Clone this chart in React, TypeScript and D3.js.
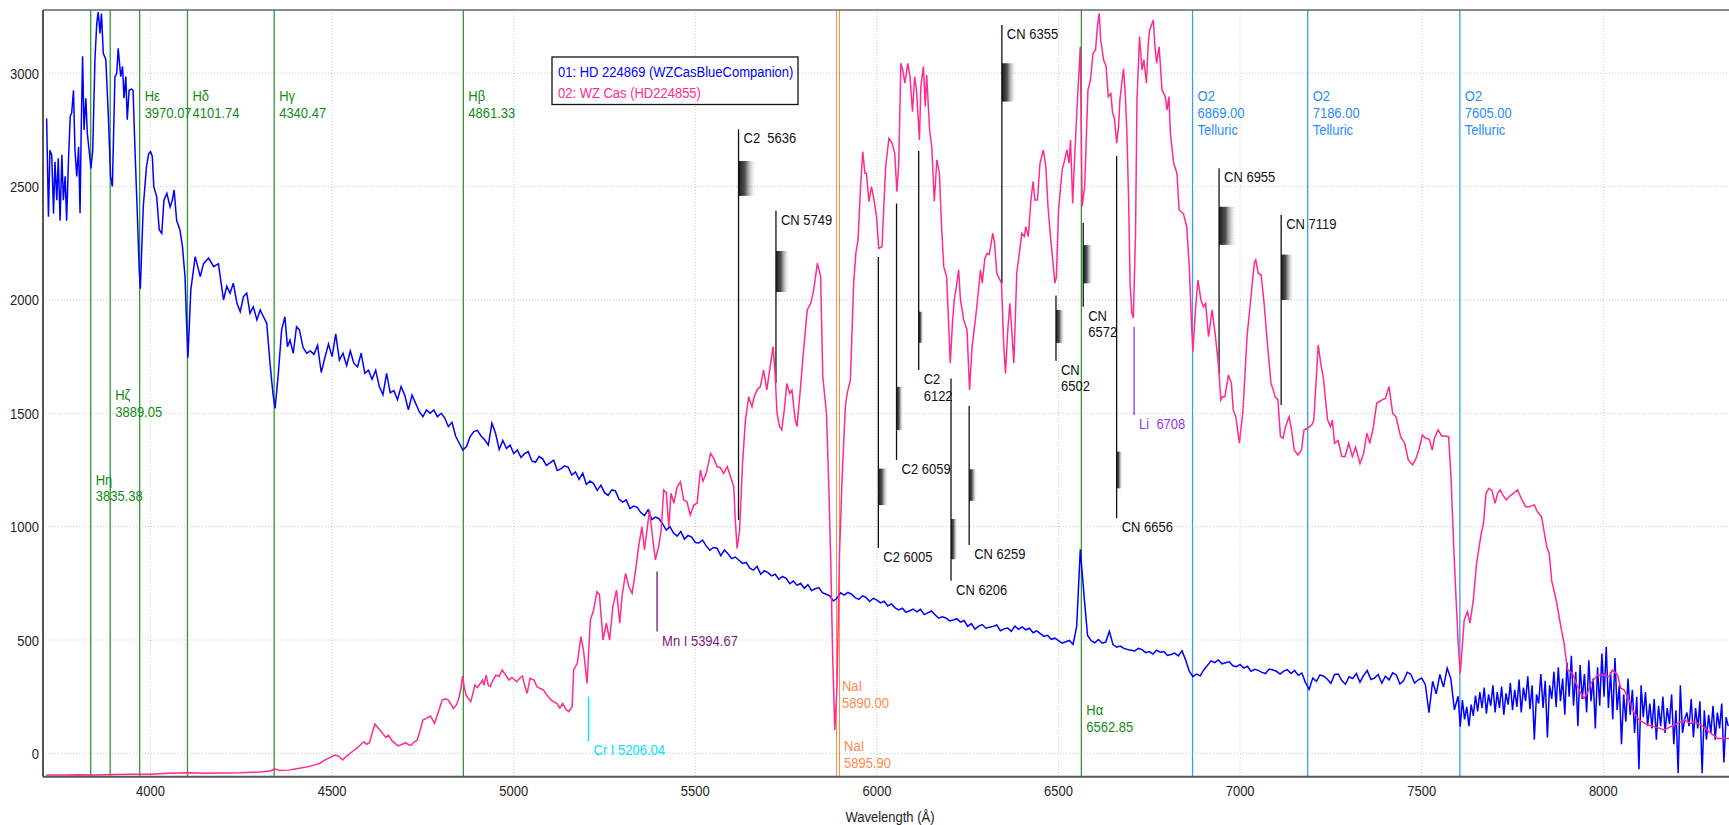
import * as d3 from 'd3'

const WIDTH = 1729
const HEIGHT = 825
const MARGIN = { top: 10, right: 0, bottom: 48.3, left: 43 }
const FONT = '"Liberation Sans", Arial, sans-serif'
const FONT_SIZE = 13
const STRETCH = 1.18

const X_DOMAIN = [3704, 8346]
const Y_DOMAIN = [-103, 3279]
const X_TICKS = [4000, 4500, 5000, 5500, 6000, 6500, 7000, 7500, 8000]
const Y_TICKS = [0, 500, 1000, 1500, 2000, 2500, 3000]

const SERIES_NAMES = ['01: HD 224869 (WZCasBlueCompanion)', '02: WZ Cas (HD224855)']

// 01: blue companion, hand
const blueHead: [number, number][] = [
  [3714, 2800], [3719, 2367], [3723, 2660], [3728, 2640], [3733, 2380], [3737, 2610], [3742, 2440], [3746, 2625],
  [3751, 2350], [3756, 2640], [3760, 2440], [3765, 2545], [3769, 2350], [3774, 2610], [3779, 2810], [3783, 2825],
  [3788, 2925], [3792, 2660], [3797, 2545], [3802, 2675], [3806, 2382], [3809, 2735], [3813, 3075], [3817, 2750],
  [3822, 2890], [3826, 2735], [3832, 2645], [3836, 2580], [3841, 2660], [3847, 3060], [3852, 3220], [3856, 3270],
  [3861, 3176], [3865, 3263], [3870, 3088], [3877, 3060], [3884, 2808], [3890, 2545], [3895, 2500], [3902, 2985],
  [3907, 3000], [3911, 3110], [3918, 2985], [3923, 3030], [3927, 2890], [3932, 2985], [3936, 2795], [3941, 2925],
  [3948, 2930], [3952, 2925], [3957, 2675], [3963, 2410], [3969, 2130], [3972, 2050], [3980, 2410], [3989, 2588],
  [3995, 2645], [4000, 2655], [4005, 2633], [4009, 2500], [4017, 2456], [4024, 2310], [4031, 2294], [4037, 2440],
  [4045, 2470], [4054, 2410], [4060, 2440], [4065, 2485], [4072, 2350], [4081, 2310], [4088, 2235], [4095, 2103],
  [4099, 1911], [4103, 1745], [4111, 2044], [4123, 2191], [4137, 2103], [4146, 2160], [4160, 2185], [4174, 2147],
  [4187, 2160], [4201, 2000], [4210, 2060], [4219, 2030], [4228, 2074], [4238, 1985], [4247, 1948], [4256, 2015],
  [4265, 2030], [4274, 1941], [4283, 1970], [4293, 1912], [4302, 1956], [4311, 1926], [4320, 1897], [4329, 1721],
  [4337, 1588], [4343, 1522], [4352, 1676], [4361, 1868], [4370, 1926], [4377, 1794], [4384, 1823], [4393, 1765],
  [4402, 1882]
]

// sampled every 10 A from 4410 to 7600
const BLUE_MID_START = 4410
const BLUE_MID_STEP = 10
const blueMid = [
  1868, 1790, 1765, 1775, 1760, 1800, 1680, 1745, 1805, 1750,
  1850, 1735, 1765, 1710, 1775, 1720, 1705, 1765, 1676, 1690,
  1650, 1690, 1618, 1582, 1676, 1590, 1600, 1560, 1618, 1580,
  1515, 1580, 1544, 1507, 1485, 1515, 1500, 1515, 1485, 1500,
  1480, 1441, 1460, 1400, 1368, 1338, 1353, 1397, 1419, 1425,
  1400, 1383, 1360, 1456, 1412, 1340, 1380, 1345, 1360, 1323,
  1338, 1305, 1322, 1331, 1290, 1284, 1310, 1298, 1270, 1281,
  1293, 1248, 1255, 1268, 1262, 1228, 1241, 1208, 1236, 1186,
  1201, 1190, 1160, 1183, 1150, 1138, 1162, 1158, 1121, 1108,
  1118, 1080, 1091, 1085, 1062, 1049, 1074, 1031, 1042, 1035,
  1012, 985, 1000, 972, 958, 979, 945, 961, 954, 930,
  928, 941, 915, 896, 908, 905, 872, 897, 880, 859,
  866, 852, 838, 842, 817, 808, 825, 790, 806, 797,
  783, 790, 768, 781, 772, 748, 760, 741, 750, 728,
  744, 718, 726, 731, 709, 702, 695, 672, 684, 708,
  698, 710, 702, 687, 679, 695, 688, 670, 684, 676,
  664, 671, 650, 659, 642, 633, 640, 622, 629, 636,
  624, 635, 612, 620, 628, 611, 596, 602, 597, 584,
  588, 594, 579, 586, 560, 572, 548, 561, 568, 552,
  556, 560, 566, 541, 549, 553, 538, 561, 547, 558,
  545, 552, 532, 540, 528, 516, 521, 503, 508, 497,
  486, 492, 498, 481, 560, 900, 700, 520, 497, 488,
  502, 486, 491, 538, 480, 468, 473, 463, 458, 455,
  452, 463, 457, 444, 449, 438, 455, 446, 449, 432,
  436, 442, 430, 452, 412, 362, 338, 350, 342, 368,
  388, 408, 400, 412, 395, 400, 404, 386, 382, 392,
  376, 384, 362, 371, 366, 357, 352, 372, 368, 362,
  350, 363, 369, 352, 366, 344, 354, 312, 282, 332,
  318, 346, 340, 327, 309, 348, 350, 321, 305, 338,
  330, 352, 314, 344, 365, 326, 332, 348, 309, 340,
  324, 355, 346, 306, 320, 358, 349, 310, 323, 332,
  303, 180, 318, 262, 348, 292, 376, 330, 192, 252
]

// the noisy red end, every 6 A from 7606
const BLUE_TAIL_START = 7606
const BLUE_TAIL_STEP = 6
const blueTail = [
  118, 235, 150, 205, 120, 215, 165, 255, 185, 270,
  200, 290, 175, 260, 210, 300, 180, 270, 200, 295,
  170, 265, 215, 310, 190, 280, 205, 325, 180, 290,
  230, 340, 195, 300, 60, 260, 220, 350, 200, 320,
  70, 300, 240, 360, 205, 380, 230, 330, 170, 400,
  250, 430, 210, 360, 120, 390, 240, 350, 180, 410,
  230, 330, 110, 380, 210, 440, 250, 470, 200, 360,
  150, 420, 190, 300, 40, 260, 140, 330, 170, 280,
  90, 250, -70, 300, 160, 270, 120, 220, 110, 240,
  60, 210, 120, 250, 90, 200, 130, 260, 40, 190,
  -88, 300, 90, 150, 180, 120, 240, 70, 200, 110,
  230, -88, 190, 60, 170, 90, 210, 60, 180, 110,
  220, -40, 160, 120
]

// 02: WZ Cas
const pinkPoints: [number, number][] = [
  [3713, -95], [3760, -96], [3800, -94], [3850, -95], [3900, -93], [3950, -92], [4000, -92], [4050, -88],
  [4100, -86], [4150, -88], [4200, -87], [4250, -86], [4300, -82], [4330, -78], [4342, -68], [4355, -76],
  [4380, -74], [4410, -66], [4430, -60], [4450, -52], [4465, -45], [4480, -30], [4495, -18], [4508, -8],
  [4518, -12], [4529, -29], [4540, -12], [4555, 7], [4570, 25], [4587, 51], [4595, 40], [4603, 47],
  [4612, 100], [4618, 129], [4628, 110], [4639, 88], [4648, 70], [4655, 80], [4665, 55], [4682, 33],
  [4693, 40], [4703, 47], [4710, 38], [4718, 36], [4725, 50], [4734, 58], [4742, 100], [4750, 147],
  [4760, 155], [4771, 165], [4782, 132], [4792, 180], [4803, 235], [4810, 240], [4818, 238], [4826, 220],
  [4834, 198], [4843, 215], [4850, 250], [4855, 290], [4859, 341], [4864, 290], [4869, 257], [4876, 240],
  [4882, 228], [4893, 301], [4900, 290], [4914, 323], [4918, 300], [4924, 345], [4930, 300], [4935, 294],
  [4942, 320], [4951, 345], [4960, 340], [4968, 368], [4980, 340], [4987, 323], [4995, 335], [5008, 316],
  [5016, 330], [5024, 341], [5030, 300], [5037, 265], [5045, 331], [5056, 323], [5064, 294], [5072, 287],
  [5082, 279], [5090, 260], [5103, 235], [5110, 228], [5119, 220], [5127, 200], [5135, 220], [5143, 195],
  [5151, 184], [5161, 206], [5165, 368], [5175, 397], [5185, 515], [5192, 456], [5202, 309], [5211, 588],
  [5220, 632], [5229, 713], [5236, 700], [5246, 500], [5255, 574], [5264, 500], [5273, 647], [5283, 720],
  [5292, 574], [5298, 691], [5308, 794], [5317, 735], [5326, 706], [5335, 802], [5344, 912], [5353, 1000],
  [5360, 897], [5367, 985], [5374, 1073], [5381, 971], [5390, 853], [5399, 912], [5406, 985], [5413, 1162],
  [5420, 1150], [5427, 1000], [5433, 1147], [5441, 1103], [5450, 1176], [5459, 1198], [5468, 1118], [5477, 1110],
  [5486, 1051], [5496, 1096], [5505, 1103], [5514, 1250], [5521, 1200], [5530, 1235], [5542, 1323], [5551, 1300],
  [5560, 1265], [5569, 1260], [5578, 1235], [5588, 1265], [5597, 1220], [5606, 1176], [5610, 1029], [5615, 904],
  [5622, 985], [5630, 1279], [5638, 1471], [5647, 1573], [5656, 1529], [5662, 1573], [5670, 1603], [5679, 1618],
  [5688, 1691], [5697, 1603], [5706, 1706], [5714, 1794], [5719, 1691], [5725, 1500], [5732, 1441], [5738, 1427],
  [5745, 1515], [5752, 1632], [5760, 1588], [5766, 1603], [5775, 1471], [5780, 1441], [5789, 1603], [5796, 1740],
  [5808, 1956], [5818, 1985], [5826, 2044], [5836, 2162], [5845, 2103], [5851, 1662], [5861, 1500], [5867, 1206],
  [5873, 838], [5878, 441], [5884, 103], [5890, 294], [5897, 882], [5904, 1206], [5913, 1529], [5918, 1588],
  [5927, 1647], [5936, 2074], [5942, 2206], [5948, 2265], [5955, 2500], [5961, 2654], [5967, 2559], [5971, 2559],
  [5978, 2434], [5985, 2500], [5992, 2441], [5999, 2367], [6005, 2228], [6014, 2235], [6024, 2588], [6033, 2713],
  [6042, 2691], [6049, 2647], [6055, 2478], [6060, 2600], [6066, 3044], [6071, 3015], [6077, 2956], [6085, 3044],
  [6091, 2985], [6098, 2830], [6104, 2985], [6109, 2926], [6117, 2706], [6121, 2941], [6128, 3030], [6133, 2853],
  [6137, 2992], [6145, 2750], [6151, 2676], [6158, 2434], [6165, 2618], [6172, 2559], [6178, 2324], [6184, 2147],
  [6192, 2100], [6202, 1721], [6208, 1900], [6213, 2000], [6219, 2060], [6225, 2133], [6230, 2000], [6239, 1912],
  [6248, 1868], [6255, 1603], [6262, 1794], [6271, 1912], [6276, 1985], [6285, 2133], [6290, 2074], [6297, 2182],
  [6303, 2206], [6309, 2200], [6313, 2235], [6319, 2294], [6324, 2250], [6330, 2118], [6343, 2074], [6349, 1800],
  [6354, 1676], [6360, 1860], [6366, 1985], [6372, 1850], [6377, 1721], [6385, 2118], [6399, 2294], [6406, 2280],
  [6410, 2323], [6417, 2280], [6424, 2441], [6430, 2522], [6435, 2441], [6442, 2441], [6449, 2603], [6458, 2662],
  [6465, 2590], [6471, 2412], [6477, 2294], [6490, 2074], [6494, 2100], [6500, 2397], [6510, 2574], [6517, 2618],
  [6523, 2662], [6529, 2603], [6533, 2706], [6539, 2426], [6543, 2580], [6552, 2882], [6560, 3117], [6565, 2412],
  [6572, 2500], [6581, 2926], [6588, 2970], [6595, 3088], [6602, 3103], [6607, 3206], [6612, 3264], [6616, 3150],
  [6624, 3059], [6631, 3030], [6637, 2897], [6644, 2910], [6649, 2823], [6654, 2800], [6660, 2691], [6665, 2760],
  [6669, 2882], [6674, 2956], [6679, 3020], [6684, 2900], [6688, 2750], [6693, 2441], [6697, 2074], [6702, 1941],
  [6706, 1920], [6712, 2294], [6716, 2882], [6723, 3162], [6730, 3015], [6735, 3060], [6742, 2956], [6747, 3130],
  [6751, 3191], [6761, 3235], [6765, 3130], [6770, 3044], [6777, 3117], [6785, 2926], [6794, 2897], [6799, 2838],
  [6804, 2897], [6808, 2735], [6817, 2603], [6826, 2559], [6832, 2397], [6844, 2380], [6853, 2323], [6860, 2147],
  [6866, 1900], [6870, 1772], [6877, 1956], [6884, 2088], [6892, 2000], [6899, 1970], [6905, 1985], [6913, 1838],
  [6923, 1956], [6932, 1838], [6940, 1720], [6947, 1559], [6952, 1573], [6958, 1573], [6968, 1669], [6976, 1632],
  [6981, 1515], [6988, 1485], [6998, 1368], [7008, 1515], [7019, 1838], [7029, 2000], [7039, 2162], [7043, 2176],
  [7050, 2118], [7058, 2110], [7066, 1985], [7075, 1809], [7085, 1632], [7092, 1600], [7096, 1573], [7104, 1560],
  [7111, 1397], [7118, 1390], [7125, 1441], [7135, 1485], [7143, 1410], [7149, 1338], [7159, 1316], [7169, 1338],
  [7176, 1427], [7186, 1434], [7198, 1450], [7203, 1470], [7215, 1802], [7222, 1720], [7230, 1647], [7236, 1544],
  [7241, 1470], [7249, 1441], [7254, 1470], [7260, 1368], [7270, 1380], [7280, 1309], [7289, 1309], [7299, 1368],
  [7309, 1309], [7318, 1350], [7330, 1279], [7340, 1323], [7349, 1412], [7357, 1368], [7367, 1441], [7376, 1544],
  [7391, 1559], [7400, 1565], [7410, 1618], [7420, 1500], [7429, 1485], [7442, 1397], [7453, 1368], [7463, 1294],
  [7475, 1272], [7484, 1300], [7492, 1338], [7502, 1404], [7511, 1390], [7521, 1385], [7529, 1338], [7535, 1390],
  [7545, 1427], [7555, 1400], [7564, 1400], [7574, 1397], [7581, 1206], [7588, 912], [7594, 700], [7600, 500],
  [7606, 353], [7617, 588], [7626, 625], [7633, 574], [7642, 676], [7651, 838], [7664, 971], [7670, 1015],
  [7677, 1147], [7685, 1169], [7693, 1160], [7702, 1103], [7709, 1147], [7716, 1162], [7723, 1140], [7733, 1118],
  [7743, 1135], [7752, 1147], [7764, 1162], [7774, 1125], [7786, 1088], [7796, 1088], [7810, 1096], [7818, 1066],
  [7830, 1044], [7844, 912], [7851, 882], [7858, 760], [7865, 713], [7872, 661], [7883, 559], [7892, 485],
  [7901, 368], [7915, 353], [7929, 294], [7938, 265], [7947, 243], [7956, 265], [7966, 309], [7984, 346],
  [8002, 345], [8016, 338], [8025, 368], [8039, 346], [8048, 287], [8058, 279], [8071, 235], [8085, 177],
  [8099, 147], [8122, 125], [8140, 118], [8168, 103], [8186, 118], [8204, 132], [8223, 147], [8241, 132],
  [8250, 140], [8269, 125], [8296, 88], [8315, 66], [8346, 66]
]

// full height identification lines
const identLines = [
  { wl: 3835.38, kind: 'balmer', text: ['Hη', '3835.38'], labelFlux: 1209 },
  { wl: 3889.05, kind: 'balmer', text: ['Hζ', '3889.05'], labelFlux: 1581 },
  { wl: 3970.07, kind: 'balmer', text: ['Hε', '3970.07'], labelFlux: 2900 },
  { wl: 4101.74, kind: 'balmer', text: ['Hδ', '4101.74'], labelFlux: 2900 },
  { wl: 4340.47, kind: 'balmer', text: ['Hγ', '4340.47'], labelFlux: 2900 },
  { wl: 4861.33, kind: 'balmer', text: ['Hβ', '4861.33'], labelFlux: 2900 },
  { wl: 5890.0, kind: 'sodium', text: ['NaI', '5890.00'], labelFlux: 298 },
  { wl: 5895.9, kind: 'sodium', text: ['NaI', '5895.90'], labelFlux: 34 },
  { wl: 6562.85, kind: 'balmer', text: ['Hα', '6562.85'], labelFlux: 194 },
  { wl: 6869.0, kind: 'telluric', text: ['O2', '6869.00', 'Telluric'], labelFlux: 2900 },
  { wl: 7186.0, kind: 'telluric', text: ['O2', '7186.00', 'Telluric'], labelFlux: 2900 },
  { wl: 7605.0, kind: 'telluric', text: ['O2', '7605.00', 'Telluric'], labelFlux: 2900 }
]

// short atomic markers: from/to in flux units
const atomLines = [
  { wl: 5206.04, kind: 'chromium', from: 250, to: 52, text: 'Cr I 5206.04', labelFlux: 15 },
  { wl: 5394.67, kind: 'manganese', from: 802, to: 537, text: 'Mn I 5394.67', labelFlux: 500 },
  { wl: 6708, kind: 'lithium', from: 1882, to: 1493, text: 'Li  6708', labelFlux: 1456 }
]

// molecular band heads: line extent, shaded band (flux hi/lo, width in A), label end
const bandMarks = [
  { wl: 5619, top: 2753, bottom: 1029, shadeHi: 2613, shadeLo: 2459, shadeWidth: 50, text: ['C2  5636'], end: 'top' },
  { wl: 5722, top: 2394, bottom: 1634, shadeHi: 2216, shadeLo: 2035, shadeWidth: 39, text: ['CN 5749'], end: 'top' },
  { wl: 6004, top: 2190, bottom: 906, shadeHi: 1256, shadeLo: 1095, shadeWidth: 28, text: ['C2 6005'], end: 'bottom' },
  { wl: 6054, top: 2425, bottom: 1294, shadeHi: 1617, shadeLo: 1426, shadeWidth: 19, text: ['C2 6059'], end: 'bottom' },
  { wl: 6115, top: 2657, bottom: 1691, shadeHi: 1948, shadeLo: 1811, shadeWidth: 14, text: ['C2', '6122'], end: 'bottom' },
  { wl: 6204, top: 1654, bottom: 761, shadeHi: 1034, shadeLo: 856, shadeWidth: 19, text: ['CN 6206'], end: 'bottom' },
  { wl: 6254, top: 1532, bottom: 919, shadeHi: 1253, shadeLo: 1114, shadeWidth: 22, text: ['CN 6259'], end: 'bottom' },
  { wl: 6344, top: 3213, bottom: 2073, shadeHi: 3044, shadeLo: 2875, shadeWidth: 41, text: ['CN 6355'], end: 'top' },
  { wl: 6493, top: 2020, bottom: 1732, shadeHi: 1956, shadeLo: 1810, shadeWidth: 25, text: ['CN', '6502'], end: 'bottom' },
  { wl: 6568, top: 2339, bottom: 1970, shadeHi: 2242, shadeLo: 2073, shadeWidth: 28, text: ['CN', '6572'], end: 'bottom' },
  { wl: 6660, top: 2635, bottom: 1037, shadeHi: 1331, shadeLo: 1169, shadeWidth: 17, text: ['CN 6656'], end: 'bottom' },
  { wl: 6942, top: 2581, bottom: 1676, shadeHi: 2411, shadeLo: 2243, shadeWidth: 50, text: ['CN 6955'], end: 'top' },
  { wl: 7113, top: 2375, bottom: 1537, shadeHi: 2200, shadeLo: 2000, shadeWidth: 36, text: ['CN 7119'], end: 'top' }
]

const KIND_COLORS: Record<string, { line: string; text: string }> = {
  balmer: { line: '#2f9a2f', text: '#138a13' },
  sodium: { line: '#ff8a4c', text: '#ff8a4c' },
  telluric: { line: '#3a98ff', text: '#2a8cff' },
  chromium: { line: '#00e6ff', text: '#00e0ff' },
  manganese: { line: '#8a1a8a', text: '#7f1a7f' },
  lithium: { line: '#9b3bff', text: '#9933ff' }
}

const BLUE = '#0000ff'
const PINK = '#ff2b8e'
const LINE_GAP = 16.7

// text slightly stretched vertically, like the original Windows font
function Label({ x, y, fill, anchor = 'start', children }: {
  x: number; y: number; fill: string; anchor?: string; children: any
}) {
  return (
    <text
      transform={`translate(${x},${y}) scale(1,${STRETCH})`}
      dy="0.36em"
      textAnchor={anchor}
      fill={fill}
      fontFamily={FONT}
      fontSize={FONT_SIZE}
      style={{ whiteSpace: 'pre' }}
    >
      {children}
    </text>
  )
}

export default function App() {
  const innerRight = WIDTH - MARGIN.right
  const innerBottom = HEIGHT - MARGIN.bottom

  const x = d3.scaleLinear().domain(X_DOMAIN).range([MARGIN.left, innerRight])
  const y = d3.scaleLinear().domain(Y_DOMAIN).range([innerBottom, MARGIN.top])

  const blue: [number, number][] = [
    ...blueHead,
    ...blueMid.map((v, i) => [BLUE_MID_START + i * BLUE_MID_STEP, v] as [number, number]),
    ...blueTail.map((v, i) => [BLUE_TAIL_START + i * BLUE_TAIL_STEP, v] as [number, number])
  ]

  const line = d3.line<[number, number]>()
    .x(d => x(d[0]))
    .y(d => y(d[1]))

  return (
    <svg width={WIDTH} height={HEIGHT} style={{ position: 'absolute', left: 0, top: 0, background: '#fff' }}>
      <defs>
        <clipPath id="plot-clip">
          <rect x={MARGIN.left} y={MARGIN.top} width={innerRight - MARGIN.left} height={innerBottom - MARGIN.top} />
        </clipPath>
        <linearGradient id="band-shade" x1="0" x2="1" y1="0" y2="0">
          <stop offset="0" stopColor="#1a1a1a" stopOpacity={1} />
          <stop offset="0.35" stopColor="#333" stopOpacity={0.85} />
          <stop offset="1" stopColor="#fff" stopOpacity={0} />
        </linearGradient>
      </defs>

      {/* Grid */}
      {Y_TICKS.map(t => (
        <line key={`gy-${t}`} x1={MARGIN.left} x2={innerRight} y1={y(t)} y2={y(t)}
          stroke="#c9c9c9" strokeDasharray="1,2" />
      ))}
      {X_TICKS.map(t => (
        <line key={`gx-${t}`} x1={x(t)} x2={x(t)} y1={MARGIN.top} y2={innerBottom}
          stroke="#c9c9c9" strokeDasharray="1,2" />
      ))}

      {/* Identification lines */}
      {identLines.map(d => (
        <line key={`il-${d.wl}`} x1={x(d.wl)} x2={x(d.wl)} y1={MARGIN.top} y2={innerBottom}
          stroke={KIND_COLORS[d.kind].line} strokeWidth={d.kind === 'sodium' ? 1 : 1.3}
          shapeRendering={d.kind === 'sodium' ? 'crispEdges' : 'auto'} />
      ))}
      {atomLines.map(d => (
        <line key={`al-${d.wl}`} x1={x(d.wl)} x2={x(d.wl)} y1={y(d.from)} y2={y(d.to)}
          stroke={KIND_COLORS[d.kind].line} strokeWidth={1.4} />
      ))}

      {/* Molecular bands */}
      {bandMarks.map(d => (
        <g key={`bm-${d.wl}`}>
          <rect x={x(d.wl)} y={y(d.shadeHi)} width={x(d.wl + d.shadeWidth) - x(d.wl)}
            height={y(d.shadeLo) - y(d.shadeHi)} fill="url(#band-shade)" />
          <line x1={x(d.wl)} x2={x(d.wl)} y1={y(d.top)} y2={y(d.bottom)} stroke="#111" strokeWidth={1.3} />
        </g>
      ))}

      {/* Spectra */}
      <g clipPath="url(#plot-clip)">
        <path d={line(blue) ?? ''} fill="none" stroke={BLUE} strokeWidth={1.5} />
        <path d={line(pinkPoints) ?? ''} fill="none" stroke={PINK} strokeWidth={1.5} />
      </g>

      {/* Labels */}
      {identLines.map(d => d.text.map((t, i) => (
        <Label key={`it-${d.wl}-${i}`} x={x(d.wl) + 5} y={y(d.labelFlux) + i * LINE_GAP}
          fill={KIND_COLORS[d.kind].text}>{t}</Label>
      )))}
      {atomLines.map(d => (
        <Label key={`at-${d.wl}`} x={x(d.wl) + 5} y={y(d.labelFlux)} fill={KIND_COLORS[d.kind].text}>{d.text}</Label>
      ))}
      {bandMarks.map(d => d.text.map((t, i) => (
        <Label key={`bt-${d.wl}-${i}`} x={x(d.wl) + 5}
          y={y(d.end === 'top' ? d.top : d.bottom) + 8.4 + i * LINE_GAP} fill="#111">{t}</Label>
      )))}

      {/* Legend */}
      <rect x={552} y={57} width={246} height={47.5} fill="#fff" stroke="#111" strokeWidth={1.3} />
      {SERIES_NAMES.map((name, i) => (
        <Label key={name} x={558} y={71 + i * 21} fill={i === 0 ? BLUE : PINK}>{name}</Label>
      ))}

      {/* Axes */}
      <line x1={MARGIN.left} x2={innerRight} y1={MARGIN.top} y2={MARGIN.top} stroke="#666" strokeWidth={1.5} />
      <line x1={MARGIN.left} x2={MARGIN.left} y1={MARGIN.top} y2={innerBottom} stroke="#555" strokeWidth={2} />
      <line x1={MARGIN.left} x2={innerRight} y1={innerBottom} y2={innerBottom} stroke="#555" strokeWidth={2} />
      {Y_TICKS.map(t => (
        <Label key={`yl-${t}`} x={MARGIN.left - 4} y={y(t)} anchor="end" fill="#222">{t}</Label>
      ))}
      {X_TICKS.map(t => (
        <Label key={`xl-${t}`} x={x(t)} y={790} anchor="middle" fill="#222">{t}</Label>
      ))}
      <Label x={(MARGIN.left + innerRight) / 2 + 4} y={816.5} anchor="middle" fill="#222">Wavelength (Å)</Label>
    </svg>
  )
}
